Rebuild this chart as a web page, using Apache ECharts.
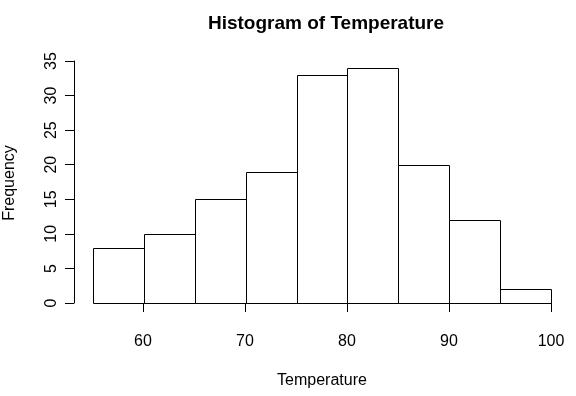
<!DOCTYPE html>
<html><head><meta charset="utf-8">
<script src="https://cdn.jsdelivr.net/npm/echarts@6/dist/echarts.min.js"></script>
<style>html,body{margin:0;padding:0;background:#fff}#c{width:576px;height:396px}</style>
</head><body><div id="c"></div>
<script>
var breaks = [55, 60, 65, 70, 75, 80, 85, 90, 95, 100];
var counts = [8, 10, 15, 19, 33, 34, 20, 12, 2];
var xTicks = [60, 70, 80, 90, 100];
var yTicks = [0, 5, 10, 15, 20, 25, 30, 35];

var bins = counts.map(function (c, i) { return [breaks[i], breaks[i + 1], c]; });
var FONT = 'Liberation Sans, Arial, sans-serif';
var chart = echarts.init(document.getElementById('c'), null, {renderer: 'canvas'});
chart.setOption({
  animation: false,
  backgroundColor: '#fff',
  title: {
    text: 'Histogram of Temperature', left: 321, top: 9, textAlign: 'center',
    textStyle: {fontFamily: FONT, fontSize: 19, fontWeight: 'bold', color: '#000'}
  },
  graphic: [
    {type: 'text', style: {text: 'Temperature', font: '16px ' + FONT, fill: '#000', x: 322, y: 381, textAlign: 'center', textVerticalAlign: 'middle'}},
    {type: 'text', style: {text: 'Frequency', font: '16px ' + FONT, fill: '#000', textAlign: 'center', textVerticalAlign: 'middle'}, x: 10, y: 183, rotation: Math.PI / 2}
  ],
  grid: [
    {left: 93, right: 25, top: 61, bottom: 93},
    {left: 143, right: 25, top: 61, bottom: 93}
  ],
  xAxis: [
    {gridIndex: 0, type: 'value', min: breaks[0], max: breaks[breaks.length - 1], show: false},
    {gridIndex: 1, type: 'value', min: xTicks[0], max: xTicks[xTicks.length - 1], interval: 10, offset: 10,
     axisLine: {show: true, lineStyle: {color: '#000', width: 1}},
     axisTick: {show: true, length: 9, lineStyle: {color: '#000'}},
     axisLabel: {fontFamily: FONT, fontSize: 16, color: '#000', margin: 21},
     splitLine: {show: false}}
  ],
  yAxis: [
    {gridIndex: 0, type: 'value', min: yTicks[0], max: yTicks[yTicks.length - 1], interval: 5, offset: 19,
     axisLine: {show: true, lineStyle: {color: '#000', width: 1}},
     axisTick: {show: true, length: 9, lineStyle: {color: '#000'}},
     axisLabel: {fontFamily: FONT, fontSize: 16, color: '#000', rotate: 90, margin: 22, verticalAlign: 'middle', align: 'center'},
     splitLine: {show: false}},
    {gridIndex: 1, type: 'value', min: 0, max: 35, show: false}
  ],
  series: [{
    type: 'custom', xAxisIndex: 0, yAxisIndex: 0, data: bins,
    renderItem: function (params, api) {
      var p0 = api.coord([api.value(0), 0]);
      var p1 = api.coord([api.value(1), api.value(2)]);
      return {type: 'rect', shape: {x: Math.round(p0[0]) + 0.5, y: Math.round(p1[1]) + 0.5, width: Math.round(p1[0]) - Math.round(p0[0]), height: Math.round(p0[1]) - Math.round(p1[1])},
        style: {fill: '#fff', stroke: '#000', lineWidth: 1}};
    }
  }]
});
</script></body></html>
